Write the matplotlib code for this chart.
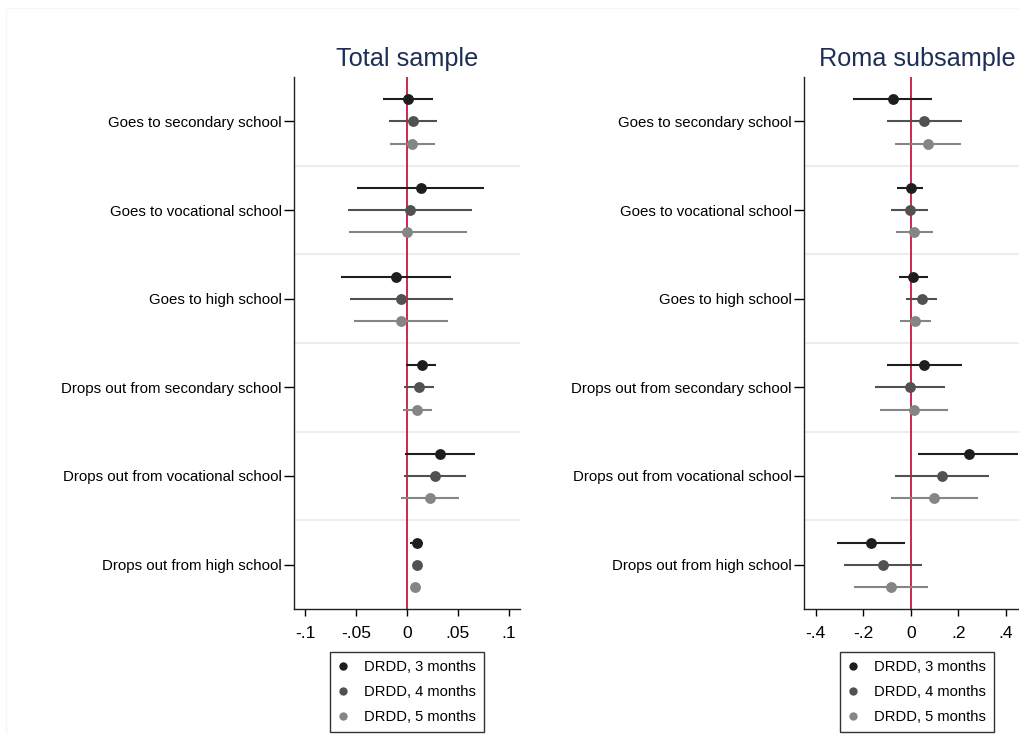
import numpy as np
import matplotlib
matplotlib.use("Agg")
import matplotlib.pyplot as plt
from matplotlib.lines import Line2D
from matplotlib.patches import Rectangle

plt.rcParams['font.family'] = ['Liberation Sans', 'DejaVu Sans']

outcomes = ["Goes to secondary school", "Goes to vocational school",
            "Goes to high school", "Drops out from secondary school",
            "Drops out from vocational school", "Drops out from high school"]
series = ["DRDD, 3 months", "DRDD, 4 months", "DRDD, 5 months"]

# Total sample: rows = 3, 4, 5 months
total_coef = [[0.0005, 0.0134, -0.0108, 0.0148, 0.0325, 0.0095],
              [0.0059, 0.0026, -0.0056, 0.0118, 0.0279, 0.0101],
              [0.0052, 0.0003, -0.0060, 0.0101, 0.0226, 0.0075]]
total_lo = [[-0.0240, -0.0490, -0.0647, -0.0007, -0.0023, 0.0033],
            [-0.0180, -0.0585, -0.0565, -0.0027, -0.0027, 0.0085],
            [-0.0170, -0.0575, -0.0520, -0.0040, -0.0063, 0.0060]]
total_hi = [[0.0256, 0.0760, 0.0433, 0.0289, 0.0666, 0.0158],
            [0.0300, 0.0640, 0.0456, 0.0262, 0.0581, 0.0117],
            [0.0276, 0.0587, 0.0407, 0.0243, 0.0509, 0.0090]]

# Roma subsample
roma_coef = [[-0.0745, 0.0000, 0.0110, 0.0575, 0.2440, -0.1680],
             [0.0560, -0.0040, 0.0460, -0.0040, 0.1320, -0.1150],
             [0.0730, 0.0150, 0.0196, 0.0150, 0.0996, -0.0840]]
roma_lo = [[-0.2416, -0.0560, -0.0480, -0.0983, 0.0320, -0.3116],
           [-0.1010, -0.0830, -0.0200, -0.1516, -0.0650, -0.2795],
           [-0.0660, -0.0620, -0.0450, -0.1280, -0.0815, -0.2400]]
roma_hi = [[0.0910, 0.0530, 0.0716, 0.2147, 0.4530, -0.0240],
           [0.2147, 0.0740, 0.1110, 0.1445, 0.3300, 0.0460],
           [0.2130, 0.0940, 0.0840, 0.1557, 0.2820, 0.0716]]

total_ticks = [-0.1, -0.05, 0, 0.05, 0.1]
total_ticklabels = ["-.1", "-.05", "0", ".05", ".1"]
roma_ticks = [-0.4, -0.2, 0, 0.2, 0.4]
roma_ticklabels = ["-.4", "-.2", "0", ".2", ".4"]

colors = ['#1e1e1e', '#515151', '#858585']
offsets = [-0.25, 0, 0.25]
W, H = 1019, 734


def panel(ax, coef, lo, hi, ticks, ticklabels, xlim, title):
    y = np.arange(len(outcomes))
    for k in range(len(outcomes) - 1):
        ax.axhline(k + 0.5, color='#e9eef1', lw=1.5, zorder=0)
    ax.axvline(0, color='#c8173f', lw=1.3, zorder=1)
    for s in range(len(series)):
        ys = y + offsets[s]
        ax.hlines(ys, lo[s], hi[s], color=colors[s], lw=1.5, zorder=2)
        ax.plot(coef[s], ys, 'o', color=colors[s], ms=7.8, mew=0, zorder=3)
    ax.set_ylim(len(outcomes) - 0.5, -0.5)
    ax.set_yticks(y)
    ax.set_yticklabels(outcomes, fontsize=10.8)
    ax.set_xlim(*xlim)
    ax.set_xticks(ticks)
    ax.set_xticklabels(ticklabels, fontsize=12.5)
    ax.tick_params(axis='y', length=7, width=1, pad=2)
    ax.tick_params(axis='x', length=5, width=1, pad=7)
    for side in ['top', 'right']:
        ax.spines[side].set_visible(False)
    for side in ['left', 'bottom']:
        ax.spines[side].set_linewidth(1)
        ax.spines[side].set_color('#202020')
    ax.set_title(title, fontsize=18.2, color='#1e2f56', pad=8)
    handles = [Line2D([], [], marker='o', ls='none', color=c, ms=6, mew=0)
               for c in colors]
    leg = ax.legend(handles, series, loc='upper center',
                    bbox_to_anchor=(0.5, -0.081), fontsize=10.6,
                    frameon=True, fancybox=False, handlelength=0.6,
                    handletextpad=1.1, borderpad=0.55, labelspacing=0.75,
                    borderaxespad=0)
    leg.get_frame().set_edgecolor('#000000')
    leg.get_frame().set_linewidth(1)


fig = plt.figure(figsize=(W / 100, H / 100), dpi=100)
fig.add_artist(Rectangle((6 / W, -0.1), 1.2, (H - 8) / H + 0.1,
                         transform=fig.transFigure, fill=False,
                         edgecolor='#f5f6f7', lw=1))
ax1 = fig.add_axes([294 / W, 125 / H, 226 / W, 532 / H])
ax2 = fig.add_axes([804 / W, 125 / H, 226 / W, 532 / H])
panel(ax1, total_coef, total_lo, total_hi, total_ticks, total_ticklabels,
      (-0.1113, 0.1113), "Total sample")
panel(ax2, roma_coef, roma_lo, roma_hi, roma_ticks, roma_ticklabels,
      (-0.449, 0.502), "Roma subsample")

fig.savefig('out.png', dpi=100, facecolor='white')
